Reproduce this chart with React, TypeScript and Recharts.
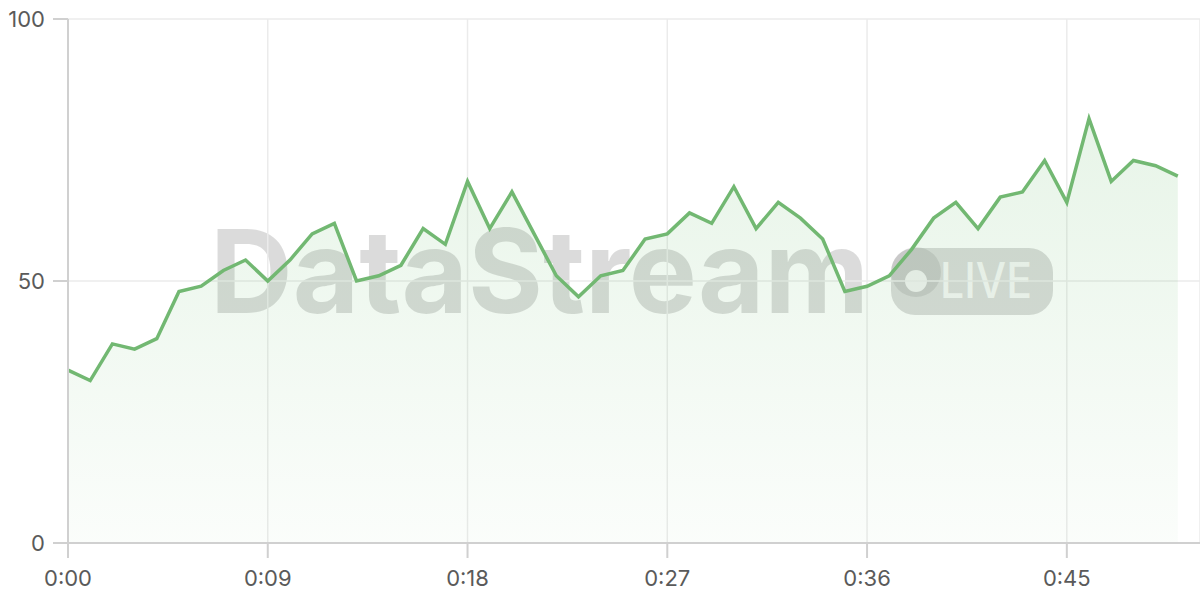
import { AreaChart, Area, XAxis, YAxis, CartesianGrid } from "recharts"

// one sample per second
const seconds = [
  0, 1, 2, 3, 4, 5, 6, 7, 8, 9, 10, 11, 12, 13, 14, 15, 16, 17, 18, 19, 20, 21, 22, 23, 24, 25,
  26, 27, 28, 29, 30, 31, 32, 33, 34, 35, 36, 37, 38, 39, 40, 41, 42, 43, 44, 45, 46, 47, 48, 49, 50,
]
const values = [
  33, 31, 38, 37, 39, 48, 49, 52, 54, 50, 54, 59, 61, 50, 51, 53, 60, 57, 69, 60, 67, 59, 51, 47, 51, 52,
  58, 59, 63, 61, 68, 60, 65, 62, 58, 48, 49, 51, 56, 62, 65, 60, 66, 67, 73, 65, 81, 69, 73, 72, 70,
]
const xTicks = [0, 9, 18, 27, 36, 45]
const yTicks = [0, 50, 100]

const data = seconds.map((t, i) => ({ t, value: values[i] }))

const fmtTime = (s: number) => `0:${String(s).padStart(2, "0")}`

function Watermark() {
  return (
    <svg width={1200} height={600} style={{ position: "absolute", left: 0, top: 0 }}>
      <text
        x={210}
        y={313}
        fontFamily="Inter, 'Liberation Sans', sans-serif"
        fontWeight={700}
        fontSize={116}
        textLength={659}
        lengthAdjust="spacingAndGlyphs"
        fill="rgba(0,0,0,0.14)"
      >
        DataStream
      </text>
      <circle cx={916} cy={272} r={25} fill="rgba(0,0,0,0.08)" />
      <rect x={891} y={248} width={162} height={67} rx={24} fill="rgba(0,0,0,0.14)" />
      <circle cx={916} cy={281} r={11} fill="rgba(255,255,255,0.75)" />
      <text
        x={940}
        y={298}
        fontFamily="Inter, 'Liberation Sans', sans-serif"
        fontWeight={500}
        fontSize={50}
        textLength={92}
        lengthAdjust="spacingAndGlyphs"
        fill="rgba(255,255,255,0.75)"
      >
        LIVE
      </text>
    </svg>
  )
}

export default function App() {
  const tick = { fill: "#5a5a5a", fontSize: 22, fontFamily: "Inter, sans-serif" }
  return (
    <div style={{ position: "fixed", left: 0, top: 0, width: 1200, height: 600, background: "#fff" }}>
      <Watermark />
      <div style={{ position: "absolute", left: 0, top: 0 }}>
        <AreaChart width={1200} height={600} data={data} margin={{ top: 19, right: 0, left: 0, bottom: 0 }}>
          <defs>
            <linearGradient id="fillGreen" x1="0" y1="0" x2="0" y2="1">
              <stop offset="0%" stopColor="#4caf50" stopOpacity={0.22} />
              <stop offset="100%" stopColor="#4caf50" stopOpacity={0.04} />
            </linearGradient>
          </defs>
          <CartesianGrid stroke="#ebebeb" strokeWidth={1.5} />
          <XAxis
            dataKey="t"
            type="number"
            domain={[0, 51]}
            ticks={xTicks}
            tickFormatter={fmtTime}
            height={57}
            tick={tick}
            tickSize={15}
            tickMargin={12}
            stroke="#d0d0d0"
            strokeWidth={2}
          />
          <YAxis
            domain={[0, 100]}
            ticks={yTicks}
            width={68}
            tick={tick}
            tickSize={15}
            tickMargin={8}
            stroke="#d0d0d0"
            strokeWidth={2}
          />
          <Area
            type="linear"
            dataKey="value"
            stroke="#72b872"
            strokeWidth={3.5}
            fill="url(#fillGreen)"
            dot={false}
            activeDot={false}
            isAnimationActive={false}
          />
        </AreaChart>
      </div>
    </div>
  )
}
